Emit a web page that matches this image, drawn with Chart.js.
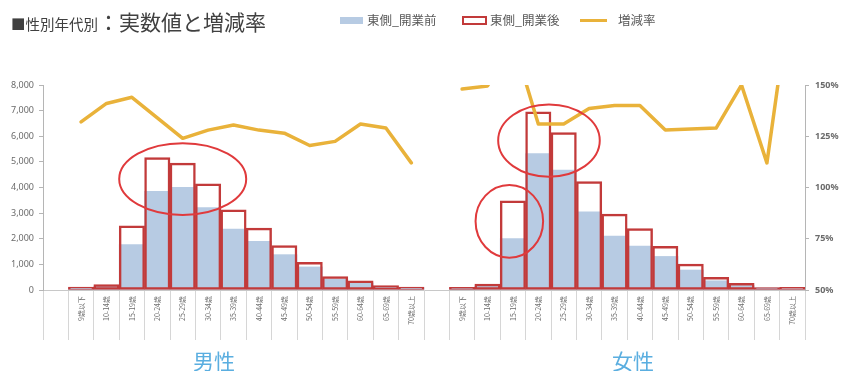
<!DOCTYPE html>
<html lang="ja">
<head>
<meta charset="utf-8">
<title>性別年代別：実数値と増減率</title>
<script src="https://cdn.jsdelivr.net/npm/chart.js@4.4.1/dist/chart.umd.min.js"></script>
<style>
  html, body { margin: 0; padding: 0; background: #fff; }
  body { width: 849px; height: 371px; position: relative; overflow: hidden;
         font-family: "Noto Sans CJK JP", "Noto Sans", sans-serif; color: #404040; }
  #wrap { position: absolute; left: 0; top: 0; width: 849px; height: 371px; }
  .title { position: absolute; left: 11px; top: 7px; line-height: 28px; white-space: nowrap; }
  .title .s { font-size: 14.5px; }
  .title .l { font-size: 21px; }
  .lg { position: absolute; font-size: 12.5px; line-height: 16px; top: 12px; color: #595959; white-space: nowrap; }
  .sw { position: absolute; box-sizing: border-box; }
  .sex { position: absolute; top: 347px; font-size: 21px; line-height: 26px; color: #5aaee0; }
</style>
</head>
<body>
<div id="wrap"><canvas id="myChart"></canvas></div>

<div class="title"><span class="s">■性別年代別</span><span class="l">：実数値と増減率</span></div>

<span class="sw" style="left:340px;top:17px;width:23px;height:7px;background:#b7cbe3"></span>
<span class="lg" style="left:367px">東側_開業前</span>
<span class="sw" style="left:462px;top:16px;width:25px;height:9px;border:2.5px solid #c23a3a"></span>
<span class="lg" style="left:490px">東側_開業後</span>
<span class="sw" style="left:580px;top:19px;width:27px;height:3px;background:#e9b23a"></span>
<span class="lg" style="left:618px">増減率</span>

<div class="sex" style="left:193px">男性</div>
<div class="sex" style="left:612px">女性</div>

<script>
document.addEventListener('DOMContentLoaded', () => {
  const ageLabels = ['9歳以下','10-14歳','15-19歳','20-24歳','25-29歳','30-34歳','35-39歳',
                     '40-44歳','45-49歳','50-54歳','55-59歳','60-64歳','65-69歳','70歳以上'];

  // 男性
  const maleBefore = [75, 150, 1770, 3850, 4010, 3220, 2380, 1900, 1380, 900, 430, 275, 130, 95];
  const maleAfter  = [110, 210, 2500, 5170, 4950, 4140, 3130, 2415, 1730, 1080, 520, 360, 170, 110];
  const maleRate   = [132, 141, 144, 134, 124, 128, 130.5, 128, 126.5, 120.5, 122.5, 131, 129, 112];

  // 女性
  const femaleBefore = [68, 154, 2010, 5320, 4675, 3050, 2100, 1710, 1310, 780, 360, 175, 85, 50];
  const femaleAfter  = [100, 230, 3480, 6950, 6140, 4230, 2960, 2400, 1700, 1010, 490, 260, 95, 100];
  const femaleRate   = [148, 149.5, 172, 131, 131, 138.5, 140, 140, 128, 128.5, 129, 150, 112, 200];

  const countTicks = [0, 1000, 2000, 3000, 4000, 5000, 6000, 7000, 8000];
  const rateTicks = [50, 75, 100, 125, 150];

  // 囲み（中心=カテゴリ位置と人数、半径=カテゴリ幅と人数）
  const rings = [
    { at: 5.0,   rx: 2.5,  value: 4330, ry: 1400 },
    { at: 19.42, rx: 2.0,  value: 5830, ry: 1410 },
    { at: 17.86, rx: 1.33, value: 2680, ry: 1420 }
  ];

  // 男性と女性を1本の軸に並べる（先頭と間に空き枠）
  const joinSides = (m, f) => [null, ...m, null, ...f];
  const labels = joinSides(ageLabels, ageLabels).map(v => v ?? '');

  const ringPlugin = {
    id: 'rings',
    afterDatasetsDraw(chart) {
      const { ctx, scales: { x, y } } = chart;
      const step = x.getPixelForValue(1) - x.getPixelForValue(0);
      ctx.save();
      ctx.strokeStyle = '#e03a3c';
      ctx.lineWidth = 2;
      rings.forEach(r => {
        const cx = x.getPixelForValue(r.at);
        const cy = y.getPixelForValue(r.value);
        const ry = Math.abs(y.getPixelForValue(r.value + r.ry) - cy);
        ctx.beginPath();
        ctx.ellipse(cx, cy, r.rx * step, ry, 0, 0, Math.PI * 2);
        ctx.stroke();
      });
      ctx.restore();
    }
  };

  const tickFont = { family: '"Noto Sans", "Noto Sans CJK JP", sans-serif', size: 9 };

  const ctx = document.getElementById('myChart').getContext('2d');
  new Chart(ctx, {
    data: {
      labels,
      datasets: [
        {
          type: 'line', label: '増減率', yAxisID: 'y1', order: 0,
          data: joinSides(maleRate, femaleRate),
          borderColor: '#e9b23a', borderWidth: 3.5, pointRadius: 0, tension: 0,
          spanGaps: false, borderJoinStyle: 'round', borderCapStyle: 'round'
        },
        {
          type: 'bar', label: '東側_開業後', yAxisID: 'y', order: 1,
          data: joinSides(maleAfter, femaleAfter),
          backgroundColor: 'rgba(255,255,255,0)', borderColor: '#c23a3a', borderWidth: 1.8,
          borderSkipped: false, grouped: false, barPercentage: 1, categoryPercentage: 1
        },
        {
          type: 'bar', label: '東側_開業前', yAxisID: 'y', order: 2,
          data: joinSides(maleBefore, femaleBefore),
          backgroundColor: '#b7cbe3', borderWidth: 0,
          grouped: false, barPercentage: 1, categoryPercentage: 1
        }
      ]
    },
    options: {
      responsive: true,
      maintainAspectRatio: false,
      animation: false,
      layout: { padding: { top: 85, left: 0, right: 0, bottom: 0 } },
      plugins: { legend: { display: false }, tooltip: { enabled: false } },
      scales: {
        x: {
          afterFit: s => { s.height = 81; },
          border: { color: '#c8c8c8' },
          grid: { drawOnChartArea: false, tickLength: 50, color: '#d6d6d6', offset: true },
          ticks: {
            autoSkip: false, minRotation: 90, maxRotation: 90, padding: -44,
            color: '#6b6b6b', font: { family: '"Noto Sans CJK JP", sans-serif', size: 7 }
          }
        },
        y: {
          position: 'left', min: 0, max: 8000,
          afterFit: s => { s.width = 43; },
          afterBuildTicks: s => { s.ticks = countTicks.map(v => ({ value: v })); },
          border: { color: '#b5b5b5' },
          grid: { drawOnChartArea: false, tickLength: 4, color: '#b5b5b5' },
          ticks: { padding: 5, color: '#6b6b6b', font: tickFont }
        },
        y1: {
          position: 'right', min: 50, max: 150,
          afterFit: s => { s.width = 44; },
          afterBuildTicks: s => { s.ticks = rateTicks.map(v => ({ value: v })); },
          border: { color: '#b5b5b5' },
          grid: { drawOnChartArea: false, tickLength: 4, color: '#b5b5b5' },
          ticks: { padding: 6, color: '#6b6b6b', font: { ...tickFont, weight: 'bold' },
                   callback: v => v + '%' }
        }
      }
    },
    plugins: [ringPlugin]
  });
});
</script>
</body>
</html>
